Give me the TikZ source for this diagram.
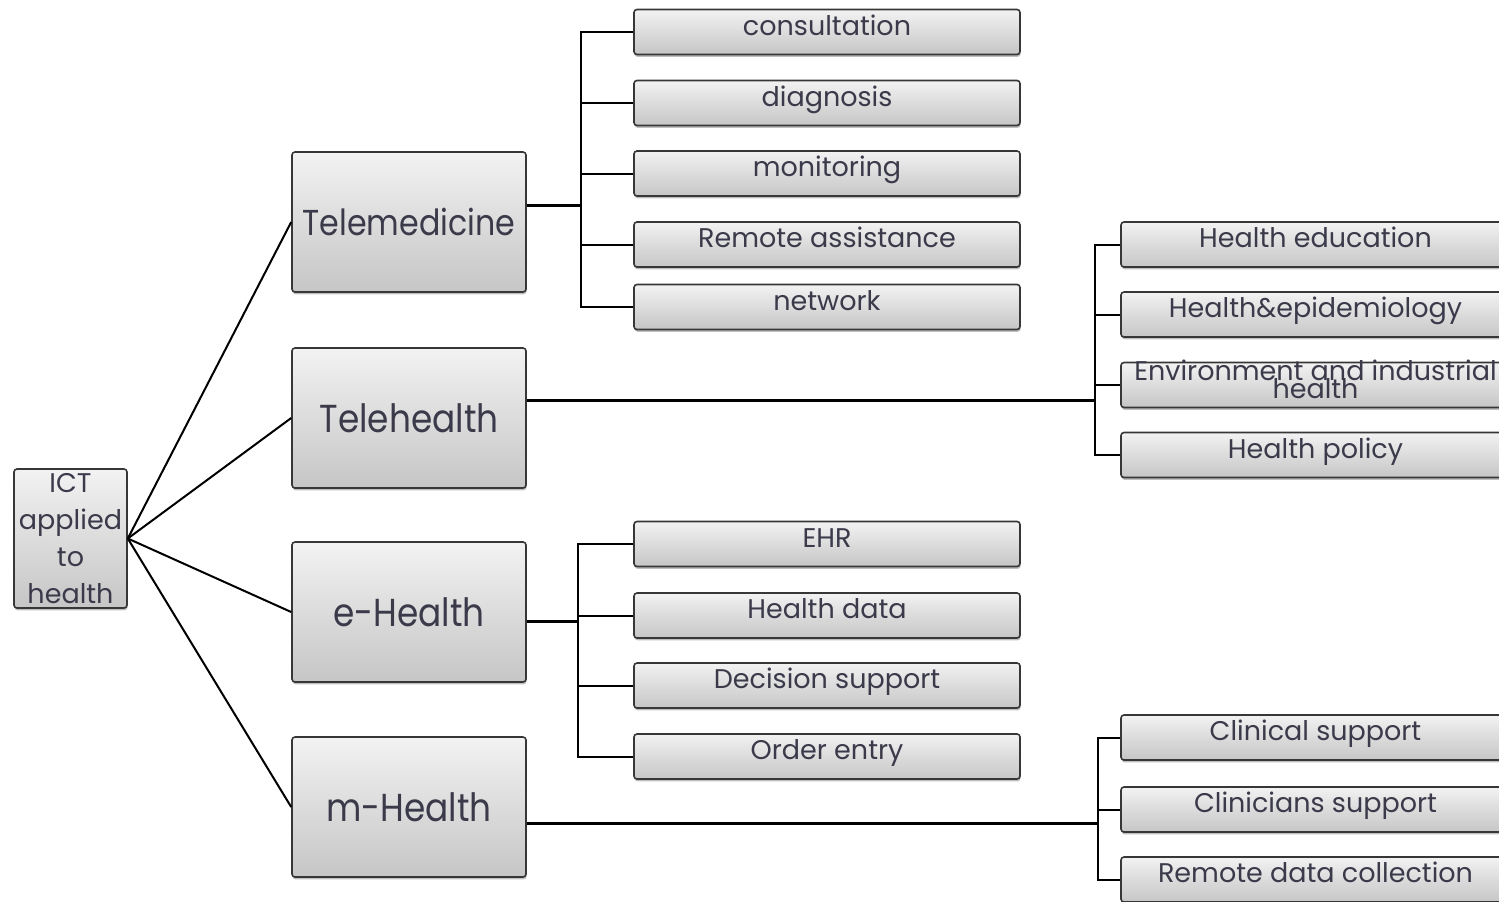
\documentclass[tikz,border=0pt]{standalone}
\usepackage{fontspec}
\setmainfont{Poppins}
\newfontfamily\topicfont{Poppins}[FakeStretch=0.88]
\usetikzlibrary{shadows}
\definecolor{boxtext}{RGB}{58,58,74}
\definecolor{boxline}{RGB}{55,55,55}

\begin{document}
\begin{tikzpicture}[x=0.5pt, y=-0.5pt,
    box/.style={draw=boxline, line width=0.8pt, rounded corners=1.5pt,
      top color=gray!10, bottom color=gray!45, text=boxtext, inner sep=0pt,
      drop shadow={shadow xshift=0.3pt, shadow yshift=-1.2pt, opacity=0.5}},
    rootbox/.style={box, minimum width=56.5pt, minimum height=69.5pt,
      align=center, font=\fontsize{13.5}{18.5}\selectfont},
    topicbox/.style={box, minimum width=117pt, minimum height=70pt,
      font=\topicfont\fontsize{19.5}{22}\selectfont},
    itembox/.style={box, minimum width=193pt, minimum height=22.5pt,
      text height=10pt, text depth=7pt, font=\fontsize{13.5}{9}\selectfont},
    wideitem/.style={itembox, minimum width=194.5pt},
    link/.style={line width=1pt},
    stem/.style={line width=1.5pt}]
  \useasboundingbox (0,0) rectangle (1499,901);
  \clip (0,0) rectangle (1499,901);

  \node[rootbox] (ict) at (70.5,538.5) {ICT\\applied\\to\\health};

  \node[topicbox, font=\topicfont\fontsize{18}{22}\selectfont] (tmed) at (409,222) {Telemedicine};
  \node[topicbox] (thlth) at (409,418) {Telehealth};
  \node[topicbox] (ehlth) at (409,612) {e-Health};
  \node[topicbox] (mhlth) at (409,807) {m-Health};

  \node[itembox] (cons) at (827,32) {consultation};
  \node[itembox] (diag) at (827,103) {diagnosis};
  \node[itembox] (moni) at (827,173.5) {monitoring};
  \node[itembox] (rass) at (827,244.5) {Remote assistance};
  \node[itembox] (netw) at (827,307) {network};

  \node[wideitem] (hedu) at (1315.5,244.5) {Health education};
  \node[wideitem] (hepi) at (1315.5,314.5) {Health\&epidemiology};
  \node[wideitem] (henv) at (1315.5,385) {};
  \node[text=boxtext, align=center, inner sep=0pt, font=\fontsize{13.5}{9}\selectfont]
    (henvtext) at ([yshift=3pt]henv.center) {Environment and industrial\\[-2pt]health};
  \node[wideitem] (hpol) at (1315.5,455) {Health policy};

  \node[itembox] (ehr) at (827,544) {EHR};
  \node[itembox] (hdat) at (827,615.5) {Health data};
  \node[itembox] (dsup) at (827,685.5) {Decision support};
  \node[itembox] (oent) at (827,756.5) {Order entry};

  \node[wideitem] (csup) at (1315.5,737.5) {Clinical support};
  \node[wideitem] (clin) at (1315.5,809.5) {Clinicians support};
  \node[wideitem] (rdat) at (1315.5,879.5) {Remote data collection};

  % junctions of the branches
  \coordinate (tmj) at (581,205);
  \coordinate (thj) at (1095,400);
  \coordinate (ehj) at (578,621);
  \coordinate (mhj) at (1098,823);

  \foreach \t in {tmed,thlth,ehlth,mhlth}
    \draw[link] (ict.east) -- (\t.west);

  \draw[stem] (tmed.east |- tmj) -- (tmj);
  \draw[stem] (thlth.east |- thj) -- (thj);
  \draw[stem] (ehlth.east |- ehj) -- (ehj);
  \draw[stem] (mhlth.east |- mhj) -- (mhj);

  \foreach \c in {cons,diag,moni,rass,netw}
    \draw[link] (tmj) |- (\c.west);
  \foreach \c in {hedu,hepi,henv,hpol}
    \draw[link] (thj) |- (\c.west);
  \foreach \c in {ehr,hdat,dsup,oent}
    \draw[link] (ehj) |- (\c.west);
  \foreach \c in {csup,clin,rdat}
    \draw[link] (mhj) |- (\c.west);
\end{tikzpicture}
\end{document}
